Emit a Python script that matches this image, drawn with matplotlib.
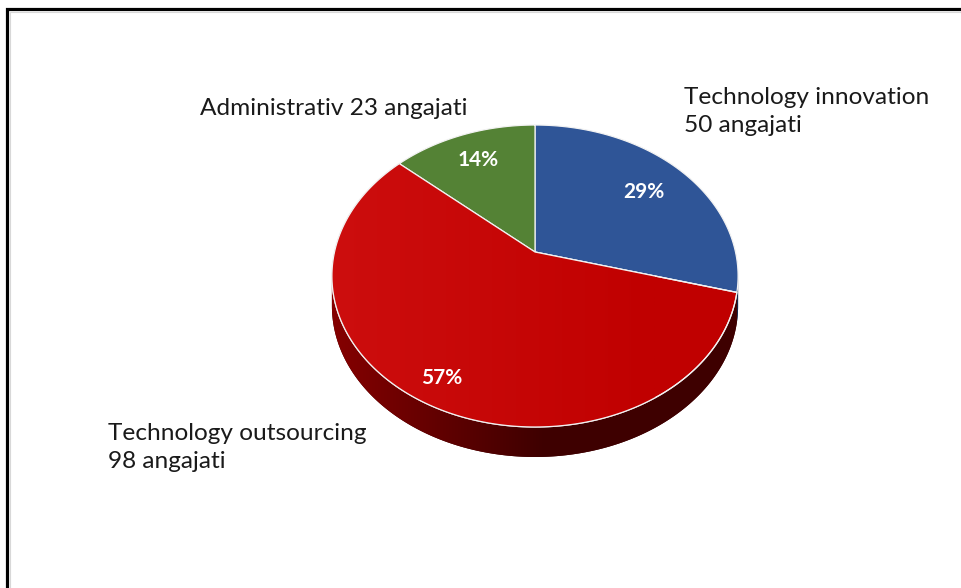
import numpy as np
import matplotlib
matplotlib.use("Agg")
import matplotlib.pyplot as plt
from matplotlib.patches import Polygon
from matplotlib.colors import to_rgb

# ── data ─────────────────────────────────────────────────────────────────────
categories = ["Technology innovation", "Technology outsourcing", "Administrativ"]
employees  = [50, 98, 23]
pct_labels = ["29%", "57%", "14%"]

# ── style ────────────────────────────────────────────────────────────────────
TOP_COLORS  = ["#2f5597", "#c00000", "#548235"]
SIDE_LIGHT  = ["#1c3560", "#860000", "#34521f"]
SIDE_DARK   = ["#15284a", "#3e0000", "#263c17"]
FONT = ["Lato", "DejaVu Sans"]

W, H = 962, 588
CX, CY = 535, 252      # apex of the pie, pixels
A = 200.5              # horizontal scale
S = 0.734              # vertical squash
K = 0.159              # perspective strength
DEPTH = 30             # thickness of the disc


def project(theta):
    """theta in radians, clockwise from 12 o'clock -> pixel coordinates."""
    x = np.sin(theta)
    y = np.cos(theta)
    w = 1 + K * y
    return CX + A * x / w, CY - A * S * y / w


def mix(c1, c2, t):
    c1, c2 = np.array(to_rgb(c1)), np.array(to_rgb(c2))
    return tuple(c1 + (c2 - c1) * t)


def gradient_fill(ax, patch, c_left, c_right, x0, x1, y0, y1, z):
    """fill a patch with a horizontal gradient by clipping an image to it"""
    g = np.linspace(0, 1, 256)
    rgb = np.array([mix(c_left, c_right, t) for t in g])[None, :, :]
    im = ax.imshow(rgb, extent=[x0, x1, y1, y0], aspect="auto",
                   zorder=z, interpolation="bilinear")
    im.set_clip_path(patch)


fig = plt.figure(figsize=(W / 100, H / 100), dpi=100, facecolor="white")
ax = fig.add_axes([0, 0, 1, 1])
ax.set_xlim(0, W)
ax.set_ylim(H, 0)
ax.set_axis_off()

# frame (left + top only, as in the cropped screenshot)
ax.plot([7, 7, W], [H, 9, 9], color="black", lw=2.3, solid_capstyle="butt",
        solid_joinstyle="miter", zorder=1)
ax.plot([10, 10, W], [H, 12, 12], color="#d8d8d8", lw=0.8, zorder=1)

total = float(sum(employees))
fracs = [v / total for v in employees]
starts = np.cumsum([0] + fracs[:-1])

# visible side wall runs between the silhouette points
t_left = np.arccos(-K)
t_right = 2 * np.pi - t_left

# ── side walls ───────────────────────────────────────────────────────────────
for i, (f, s0) in enumerate(zip(fracs, starts)):
    a0 = max(s0 * 2 * np.pi, t_left)
    a1 = min((s0 + f) * 2 * np.pi, t_right)
    if a1 <= a0:
        continue
    th = np.linspace(a0, a1, 200)
    px, py = project(th)
    verts = np.column_stack([np.r_[px, px[::-1]], np.r_[py, py[::-1] + DEPTH]])
    side = Polygon(verts, closed=True, facecolor=SIDE_DARK[i],
                   edgecolor="none", zorder=2)
    ax.add_patch(side)
    gradient_fill(ax, side, SIDE_LIGHT[i], SIDE_DARK[i],
                  CX - A * 1.02, CX + 10, CY, CY + 220, 2.1)
    # beyond the gradient band keep the dark tone
    dark = Polygon(verts, closed=True, facecolor="none", edgecolor="none")
    ax.add_patch(dark)
    im = ax.imshow(np.array([[to_rgb(SIDE_DARK[i])]]),
                   extent=[CX + 10, CX + A * 1.05, CY + 220, CY],
                   aspect="auto", zorder=2.1)
    im.set_clip_path(dark)

# ── top faces ────────────────────────────────────────────────────────────────
for i, (f, s0) in enumerate(zip(fracs, starts)):
    th = np.linspace(s0 * 2 * np.pi, (s0 + f) * 2 * np.pi, 200)
    px, py = project(th)
    verts = np.column_stack([np.r_[CX, px], np.r_[CY, py]])
    poly = Polygon(verts, closed=True, facecolor=TOP_COLORS[i],
                   edgecolor="#f2f2f2", lw=0.9, zorder=3)
    ax.add_patch(poly)
    if i == 1:
        # soft left-to-right sheen on the big slice
        gradient_fill(ax, poly, "#cd0e0e", "#c00000",
                      CX - A * 1.02, CX + A * 0.6, CY - 140, CY + 200, 3.1)
        ax.add_patch(Polygon(verts, closed=True, facecolor="none",
                             edgecolor="#f2f2f2", lw=0.9, zorder=3.2))

# ── percentage labels ────────────────────────────────────────────────────────
pct_pos = [(644, 192), (442, 378), (478, 160)]
for lbl, (x, y) in zip(pct_labels, pct_pos):
    ax.text(x, y, lbl, color="white", fontsize=15, fontweight="bold",
            family=FONT, ha="center", va="center", zorder=5)

# ── category labels ──────────────────────────────────────────────────────────
cat_lines = [
    [categories[0], f"{employees[0]} angajati"],
    [categories[1], f"{employees[1]} angajati"],
    [f"{categories[2]} {employees[2]} angajati"],
]
cat_pos = [(684, 104), (108, 440), (200, 115)]
LINE_GAP = 28
for lines, (x, y) in zip(cat_lines, cat_pos):
    for k, line in enumerate(lines):
        ax.text(x, y + k * LINE_GAP, line, color="#1a1a1a", fontsize=17.6,
                family=FONT, ha="left", va="baseline", zorder=5)

plt.savefig("out.png", dpi=100, facecolor="white")
plt.close()
